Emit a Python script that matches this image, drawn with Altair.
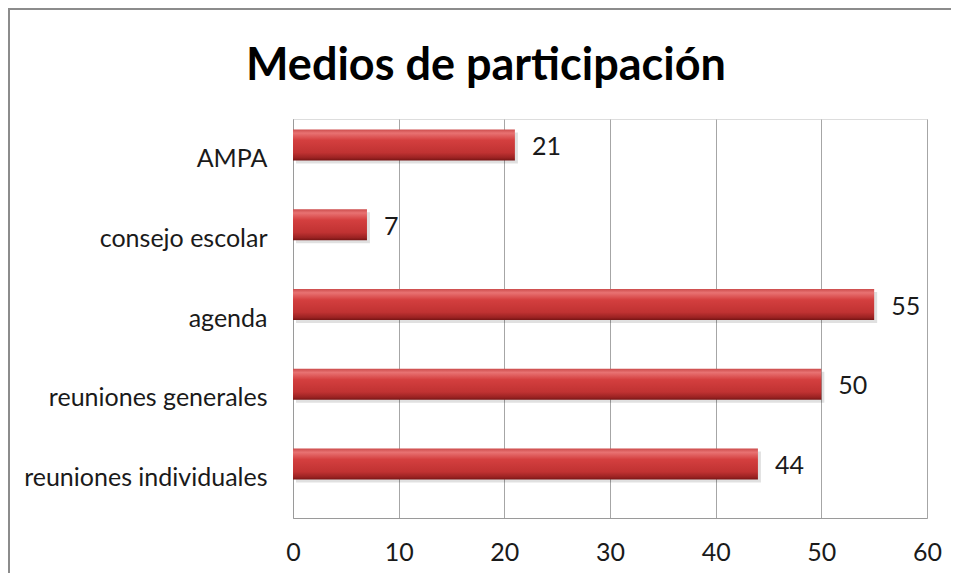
import altair as alt
import pandas as pd

categories = ["AMPA", "consejo escolar", "agenda", "reuniones generales", "reuniones individuales"]
values = [21, 7, 55, 50, 44]
x_ticks = [0, 10, 20, 30, 40, 50, 60]
title_text = "Medios de participación"

df = pd.DataFrame({"medio": categories, "valor": values})

FONT = "Lato"
W, H = 634, 399
PAD = {"left": 285, "top": 111, "right": 24, "bottom": 55}
FS = 25

grad = alt.Gradient(
    gradient="linear", x1=0, x2=0, y1=0, y2=1,
    stops=[
        alt.GradientStop(offset=0.0, color="#cc4c4c"),
        alt.GradientStop(offset=0.12, color="#e87272"),
        alt.GradientStop(offset=0.35, color="#d43f3f"),
        alt.GradientStop(offset=0.75, color="#c03232"),
        alt.GradientStop(offset=0.92, color="#9a2222"),
        alt.GradientStop(offset=1.0, color="#761414"),
    ],
)

y_enc = alt.Y("medio:N", sort=categories, title=None,
              scale=alt.Scale(paddingInner=0, paddingOuter=0),
              axis=alt.Axis(labelFontSize=FS, labelFont=FONT, labelColor="#1a1a1a",
                            labelPadding=26, labelLimit=400, ticks=False, domain=True,
                            domainColor="#9a9a9a", grid=False))
x_enc = alt.X("valor:Q", title=None,
              scale=alt.Scale(domain=[0, 60], nice=False),
              axis=alt.Axis(values=x_ticks, labelFontSize=FS, labelFont=FONT,
                            labelColor="#1a1a1a", labelPadding=22, ticks=False,
                            domainColor="#9a9a9a", gridColor="#a6a6a6",
                            gridWidth=1, labelFlush=False))

base = alt.Chart(df)

shadow = base.mark_bar(size=31, yOffset=-11, xOffset=3, color="#000000", opacity=0.12).encode(
    x=x_enc, y=y_enc)
bars = base.mark_bar(size=31, yOffset=-14, color=grad).encode(x=x_enc, y=y_enc)
labels = base.mark_text(align="left", baseline="middle", dx=17, yOffset=-12,
                        fontSize=FS, font=FONT, color="#1a1a1a").encode(
    x="valor:Q", y=alt.Y("medio:N", sort=categories), text="valor:Q")

frame = alt.Chart(pd.DataFrame({"k": [0]})).mark_rect(
    fill=None, stroke="#8c8c8c", strokeWidth=2).encode(
    x=alt.value(-PAD["left"] + 1), x2=alt.value(W + 200),
    y=alt.value(-PAD["top"] + 1), y2=alt.value(H + 200))

title = alt.Chart(pd.DataFrame({"t": [title_text]})).mark_text(
    align="center", baseline="alphabetic", fontSize=45, font=FONT,
    fontWeight="bold", color="#000000").encode(
    x=alt.value(486 - 293), y=alt.value(80 - 119), text="t:N")

chart = alt.layer(frame, shadow, bars, labels, title).properties(
    width=W, height=H,
    padding=PAD,
    autosize=alt.AutoSizeParams(type="none"),
).configure_view(stroke=None).configure(background="white")

chart.save("out.html", embed_options={"renderer": "svg", "actions": False})
